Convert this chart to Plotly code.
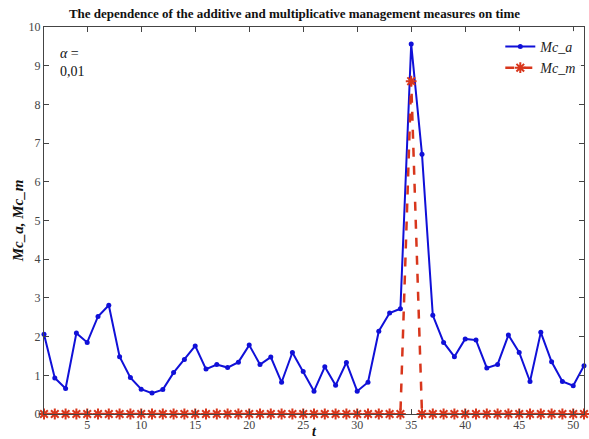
import plotly.graph_objects as go

t = list(range(1, 52))
mc_a = [2.06, 0.93, 0.66, 2.09, 1.85, 2.52, 2.81, 1.48, 0.94, 0.64,
        0.54, 0.63, 1.07, 1.41, 1.76, 1.16, 1.28, 1.20, 1.34, 1.78,
        1.28, 1.47, 0.82, 1.59, 1.10, 0.59, 1.22, 0.74, 1.33, 0.59,
        0.82, 2.14, 2.61, 2.72, 9.56, 6.71, 2.55, 1.85, 1.48, 1.94,
        1.91, 1.19, 1.28, 2.04, 1.59, 0.84, 2.11, 1.35, 0.84, 0.73, 1.25]
mc_m = [0.0] * 51
mc_m[34] = 8.60

x_ticks = [5, 10, 15, 20, 25, 30, 35, 40, 45, 50]
y_ticks = [0, 1, 2, 3, 4, 5, 6, 7, 8, 9, 10]

serif = "Liberation Serif, Times New Roman, serif"

fig = go.Figure()
fig.add_trace(go.Scatter(
    x=t, y=mc_a, name="<i>Mc_a</i>", mode="lines+markers",
    line=dict(color="#1010d8", width=2),
    marker=dict(color="#1010d8", size=5, symbol="circle"),
    cliponaxis=False,
))
fig.add_trace(go.Scatter(
    x=t, y=mc_m, name="<i>Mc_m</i>", mode="lines+markers",
    line=dict(color="#d8361c", width=2.5, dash="dash"),
    marker=dict(color="#d8361c", size=9, symbol="asterisk-open",
                line=dict(color="#d8361c", width=2)),
    cliponaxis=False,
))

axis_common = dict(
    showgrid=False, zeroline=False, showline=True, linecolor="#444", linewidth=1,
    mirror="ticks", ticks="inside", ticklen=5, tickcolor="#444", automargin=False,
    tickfont=dict(family=serif, size=12, color="#444"),
)

fig.update_layout(
    width=589, height=439, autosize=False,
    margin=dict(l=44, r=5, t=27, b=25),
    paper_bgcolor="white", plot_bgcolor="white",
    title=dict(text="<b>The dependence of the additive and multiplicative management measures on time</b>",
               x=0.5, xanchor="center", y=0.97, yanchor="middle",
               font=dict(family=serif, size=13, color="#111")),
    xaxis=dict(range=[1, 51], tickvals=x_ticks, **axis_common,
               title=dict(text="<b><i>t</i></b>", standoff=3,
                          font=dict(family=serif, size=14, color="#111"))),
    yaxis=dict(range=[0, 10], tickvals=y_ticks, **axis_common,
               title=dict(text="<b><i>Mc_a, Mc_m</i></b>", standoff=1,
                          font=dict(family=serif, size=15, color="#111"))),
    legend=dict(x=0.995, y=0.99, xanchor="right", yanchor="top",
                bgcolor="rgba(255,255,255,0.9)", borderwidth=0,
                font=dict(family=serif, size=14, color="#222"),
                itemwidth=30, tracegroupgap=0),
    showlegend=True,
    annotations=[dict(
        x=0.025, y=0.955, xref="paper", yref="paper", xanchor="left", yanchor="top",
        text="<i>α</i> =<br>0,01", showarrow=False, align="left",
        font=dict(family=serif, size=14, color="#111"),
    )],
)

fig.write_html("out.html", config={"displayModeBar": False},
               post_script="document.body.style.margin='0px';document.body.style.overflow='hidden';")
